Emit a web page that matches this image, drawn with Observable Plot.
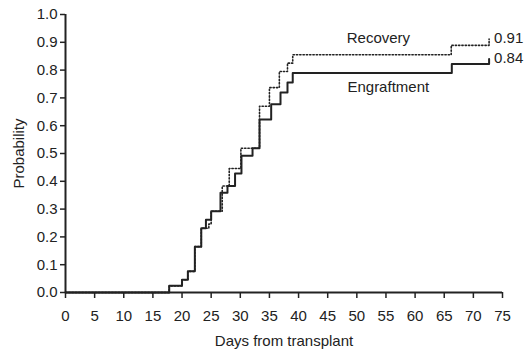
<!DOCTYPE html>
<html>
<head>
<meta charset="utf-8">
<script src="https://cdn.jsdelivr.net/npm/d3@7"></script>
<script src="https://cdn.jsdelivr.net/npm/@observablehq/plot@0.6"></script>
<style>
  html, body { margin: 0; padding: 0; background: #fff; }
</style>
</head>
<body>
<div id="chart"></div>
<script>
// ---- data ----
const xTicks = [0, 5, 10, 15, 20, 25, 30, 35, 40, 45, 50, 55, 60, 65, 70, 75];
const yTicks = [0, 0.1, 0.2, 0.3, 0.4, 0.5, 0.6, 0.7, 0.8, 0.9, 1.0];

const seriesNames = ["Recovery", "Engraftment"];
const endLabels = ["0.91", "0.84"];

const engraftmentDays = [0, 17.8, 20, 21, 22.2, 23.3, 24.1, 25.0, 26.6, 27.8, 29.1, 30.2, 32.1, 33.3, 35.3, 36.9, 38.1, 39.0, 66.3, 72.7];
const engraftmentProb = [0, 0.024, 0.046, 0.076, 0.165, 0.231, 0.262, 0.292, 0.359, 0.383, 0.428, 0.492, 0.519, 0.622, 0.677, 0.719, 0.755, 0.790, 0.822, 0.840];

const recoveryDays = [0, 17.8, 20, 21, 22.2, 23.3, 24.6, 25.0, 26.9, 28.1, 30.1, 33.3, 35.0, 36.7, 38.1, 39.0, 66.2, 72.7];
const recoveryProb = [0, 0.024, 0.046, 0.076, 0.165, 0.231, 0.246, 0.292, 0.383, 0.446, 0.519, 0.670, 0.737, 0.795, 0.825, 0.855, 0.889, 0.912];

// ---- build tables ----
const engraftment = engraftmentDays.map((d, i) => ({day: d, p: engraftmentProb[i]}));
const recovery = recoveryDays.map((d, i) => ({day: d, p: recoveryProb[i]}));
const ends = [
  {day: recoveryDays.at(-1), p: recoveryProb.at(-1), label: endLabels[0]},
  {day: engraftmentDays.at(-1), p: engraftmentProb.at(-1), label: endLabels[1]}
];

const ink = "#222";
const font = "'Liberation Sans', Arial, sans-serif";

const chart = Plot.plot({
  width: 525,
  height: 352,
  marginLeft: 65,
  marginRight: 23,
  marginTop: 14,
  marginBottom: 60,
  style: {fontFamily: font, fontSize: "15px", color: ink, background: "#fff"},
  x: {domain: [0, 75]},
  y: {domain: [0, 1]},
  marks: [
    Plot.axisX({ticks: xTicks, tickSize: 6, tickPadding: 12, stroke: ink, strokeWidth: 1.5,
      label: "Days from transplant", labelAnchor: "center", labelArrow: "none", labelOffset: 53, fontSize: 15}),
    Plot.axisY({ticks: yTicks, tickSize: 5, tickPadding: 3, tickFormat: d3.format(".1f"), stroke: ink, strokeWidth: 1.5,
      label: "Probability", labelAnchor: "center", labelArrow: "none", labelOffset: 52, fontSize: 15}),
    Plot.ruleY([0], {stroke: ink, strokeWidth: 2}),
    Plot.ruleX([0], {stroke: ink, strokeWidth: 2}),
    Plot.line(recovery, {x: "day", y: "p", curve: "step-after", stroke: ink, strokeWidth: 1.6, strokeDasharray: "1.3,2"}),
    Plot.line(engraftment, {x: "day", y: "p", curve: "step-after", stroke: ink, strokeWidth: 2}),
    Plot.text(ends, {x: "day", y: "p", text: "label", dx: 5, dy: -1, textAnchor: "start", fill: ink, fontSize: 15}),
    Plot.text([seriesNames[0]], {x: 53.7, y: 0.915, text: d => d, fill: ink, fontSize: 15}),
    Plot.text([seriesNames[1]], {x: 55.4, y: 0.74, text: d => d, fill: ink, fontSize: 15})
  ]
});
document.getElementById("chart").appendChild(chart);
</script>
</body>
</html>
